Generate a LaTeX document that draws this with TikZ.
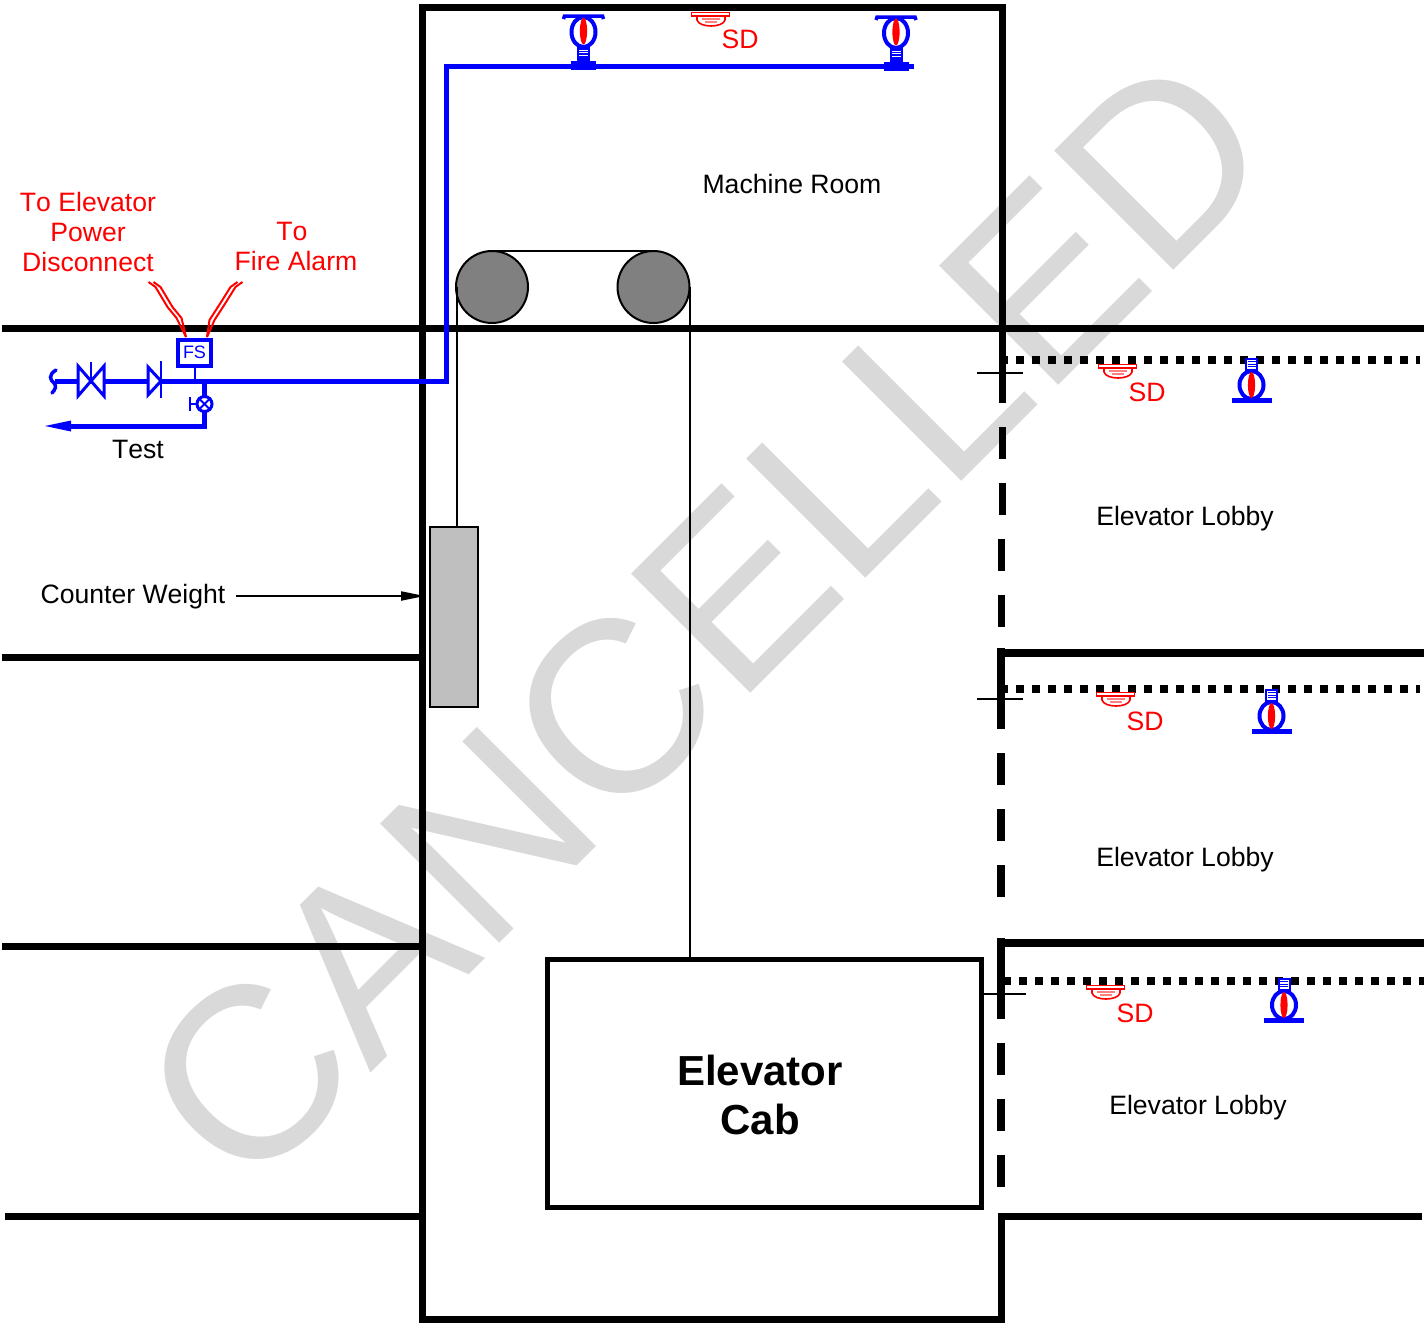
\documentclass[tikz,border=0pt]{standalone}
\usepackage{fontspec}
\setmainfont[Kerning=Off]{Liberation Sans}
\usetikzlibrary{arrows.meta,calc}
\definecolor{stampgray}{HTML}{D9D9D9}
\tikzset{
  wall/.style={line width=7pt},
  walldots/.style={line width=8pt,dash pattern=on 8pt off 8pt},
  thinline/.style={line width=2pt},
  pipe/.style={blue,line width=5pt},
  wire/.style={red,line width=2pt},
  sheave/.style={draw,line width=2pt,fill=black!50,circle,minimum size=72pt,inner sep=0pt,outer sep=0pt},
  plainlabel/.style={anchor=base,inner sep=0pt,align=center,font=\fontsize{26.6}{30}\selectfont},
  redlabel/.style={plainlabel,red},
}
\newcommand{\smokedet}[2]{
  \begin{scope}[shift={(#1,#2)}]
    \draw[red,line width=1.6pt,fill=white] (6,4) -- (6,8) .. controls (8,16) and (32,16) .. (34,8) -- (34,4);
    \fill[red!50] (11,6) rectangle (29,8);
    \fill[red!50] (14,9) rectangle (26,11);
    \draw[red,line width=1.8pt,fill=white] (.5,.5) rectangle (38.5,4);
  \end{scope}}
\newcommand{\uprighthead}[2]{
  \begin{scope}[shift={(#1,#2)}]
    \fill[blue] (-12.5,46) rectangle (12.5,55);
    \fill[blue] (-6.5,31) rectangle (6.5,47);
    \foreach \y in {35,37.5,40} \draw[white,line width=.7pt] (-4.5,\y) -- (4.5,\y);
    \draw[blue,line width=4pt,fill=white] (0,17) ellipse (12 and 15);
    \fill[red] (0,16) ellipse (3.6 and 13.5);
    \draw[blue,line width=3.5pt] (-20,4) -- (-19,1) -- (19,1) -- (20,4);
  \end{scope}}
\newcommand{\pendenthead}[2]{
  \begin{scope}[shift={(#1,#2)}]
    \draw[blue,line width=2pt,fill=white] (-5.5,1) rectangle (5.5,12);
    \foreach \y in {3.5,6,8.5} \draw[blue,line width=.8pt] (-4,\y) -- (4,\y);
    \draw[blue,line width=4pt,fill=white] (0,27) ellipse (12 and 14);
    \fill[red] (0,27) ellipse (3.6 and 13);
    \fill[blue] (-20,40) rectangle (20,45);
  \end{scope}}
\begin{document}
\begin{tikzpicture}[x=1pt,y=-1pt]
  \useasboundingbox (0,0) rectangle (1424,1323);
  \node[rotate=45,stampgray,inner sep=0pt,font=\fontsize{245}{245}\selectfont] (stamp) at (705.5,619) {CANCELLED};
  % shaft and floors
  \draw[wall,line cap=rect] (422,7) -- (1002.5,7);
  \draw[wall,line cap=rect] (422,7) -- (422,1319.5);
  \draw[wall,line cap=rect] (422,1319.5) -- (1001,1319.5);
  \draw[wall] (1002.5,4) -- (1002.5,403);
  \draw[wall] (2,328) -- (1424,328);
  \draw[wall] (2,657) -- (422,657);
  \draw[wall] (2,946) -- (422,946);
  \draw[wall] (5,1216) -- (422,1216);
  \draw[wall,line cap=rect] (1001,1216) -- (1001,1319.5);
  \draw[wall] (997.5,1216) -- (1422,1216);
  \draw[wall] (1002,427) -- (1002,459);
  \draw[wall] (1002,483) -- (1002,515);
  \draw[wall] (1001.5,539) -- (1001.5,571);
  \draw[wall] (1001,595) -- (1001,627);
  \draw[wall,line width=8pt] (1000.5,648) -- (1000.5,729);
  \draw[wall,line width=8pt] (1000.5,652.5) -- (1424,652.5);
  \draw[wall,line width=8pt] (1000.5,753) -- (1000.5,785);
  \draw[wall,line width=8pt] (1000.5,809) -- (1000.5,841);
  \draw[wall,line width=8pt] (1000.5,865) -- (1000.5,897);
  \draw[wall,line width=8pt] (1000.5,938) -- (1000.5,1019);
  \draw[wall,line width=8pt] (1000.5,942.5) -- (1424,942.5);
  \draw[wall,line width=8pt] (1000.5,1043) -- (1000.5,1075);
  \draw[wall,line width=8pt] (1000.5,1099) -- (1000.5,1131);
  \draw[wall,line width=8pt] (1000.5,1155) -- (1000.5,1187);
  \draw[walldots] (1000,360) -- (1420,360);
  \draw[walldots] (1000,688.5) -- (1420,688.5);
  \draw[walldots] (1003,981) -- (1424,981);
  \draw[thinline] (977,372.5) -- (1023,372.5);
  \draw[thinline] (977,699) -- (1023,699);
  \draw[thinline] (984,993.5) -- (1026,993.5);
  % cab, weight and sheaves
  \node[draw,line width=4.5pt,minimum width=434pt,minimum height=248pt,inner sep=0pt] (cab) at (764.5,1083.5) {};
  \node[font=\bfseries\fontsize{42}{49}\selectfont,align=center,anchor=base,inner sep=0pt] (cabtext) at (760,1134.5) {Elevator\\Cab};
  \node[draw,line width=2pt,fill=black!25,minimum width=48pt,minimum height=180pt,inner sep=0pt] (weight) at (454,617) {};
  \node[sheave] (sheavel) at (492,287) {};
  \node[sheave] (sheaver) at (653.5,287) {};
  \draw[thinline] (sheavel.north) -- (sheaver.north);
  \draw[thinline] ($(sheavel.west)+(1,0)$) -- ($(sheavel.west |- weight.north)+(1,0)$);
  \draw[thinline] (sheaver.east) -- (sheaver.east |- cab.north);
  % riser
  \coordinate (pipeend) at (55,381);
  \coordinate (corner) at (446.5,381);
  \coordinate (topcorner) at (446.5,66);
  \coordinate (topend) at (914,66);
  \coordinate (tee) at (204.5,381);
  \coordinate (drain) at (204.5,426);
  \coordinate (testend) at (45,426);
  \draw[pipe,line join=miter] (pipeend) -- (corner) -- (topcorner) -- (topend);
  \draw[pipe,line join=miter] (tee) -- (drain) -- (68,426);
  \fill[blue] (testend) -- (71,420.5) -- (71,431.5) -- cycle;
  \draw[blue,line width=3.5pt,line cap=round] (56,370) .. controls (48,375) and (50,380) .. (54,383) .. controls (57,386) and (55,390) .. (52,393);
  % gate valve
  \draw[blue,line width=3pt,fill=white,line join=miter] (78,366) -- (104,396) -- (104,366) -- (78,396) -- cycle;
  \draw[blue,line width=2pt] (91,362) -- (91,381);
  % check valve
  \draw[blue,line width=3pt,fill=white,line join=miter] (148,367) -- (161,381) -- (148,395) -- cycle;
  \draw[blue,line width=2pt] (161,361) -- (161,398);
  % test valve
  \draw[blue,line width=2.5pt] (204.5,404) -- (190,404);
  \draw[blue,line width=2.5pt] (190,397) -- (190,411);
  \node[draw=blue,line width=3pt,fill=white,circle,minimum size=15pt,inner sep=0pt] (testvalve) at (204.5,404) {};
  \draw[blue,line width=2pt] (testvalve.north west) -- (testvalve.south east);
  \draw[blue,line width=2pt] (testvalve.north east) -- (testvalve.south west);
  % flow switch
  \node[draw=blue,line width=4pt,fill=white,text=blue,minimum width=33pt,minimum height=26pt,inner sep=0pt,font=\fontsize{18}{18}\selectfont] (fsbox) at (194.5,352.5) {FS};
  \draw[blue,line width=2pt] (fsbox.south) -- (fsbox.south |- pipeend);
  \coordinate (wirel) at (186,337);
  \coordinate (wirer) at (207,337);
  \foreach \d in {-2.5,2.5} {
    \draw[wire,xshift=\d pt] (wirel) -- (179,318) -- (170,307) -- (158,287) -- (151,282);
    \draw[wire,xshift=\d pt] (wirer) -- (212,320) -- (223,303) -- (233,287) -- (240,282);
  }
  % heads
  \uprighthead{583.5}{15}
  \uprighthead{896}{16}
  \pendenthead{1251.5}{358}
  \pendenthead{1271.5}{689}
  \pendenthead{1284}{978}
  \smokedet{691}{12}
  \smokedet{1098}{364}
  \smokedet{1096}{692}
  \smokedet{1086}{985}
  % labels
  \node[redlabel] (sdtop) at (740,48) {SD};
  \node[redlabel] (sdone) at (1147,401) {SD};
  \node[redlabel] (sdtwo) at (1145,730) {SD};
  \node[redlabel] (sdthree) at (1135,1022) {SD};
  \node[redlabel] (powertext) at (88,271) {To Elevator\\Power\\Disconnect};
  \node[redlabel] (alarmto) at (292,240.5) {To};
  \node[redlabel] (alarmtext) at (296,270.5) {Fire Alarm};
  \node[plainlabel] (testtext) at (138,458.5) {Test};
  \node[plainlabel] (roomtext) at (792,193.5) {Machine Room};
  \node[plainlabel] (lobbyone) at (1185,525.5) {Elevator Lobby};
  \node[plainlabel] (lobbytwo) at (1185,866.5) {Elevator Lobby};
  \node[plainlabel] (lobbythree) at (1198,1114.5) {Elevator Lobby};
  \node[plainlabel] (weighttext) at (133,603.5) {Counter Weight};
  \coordinate (weightstart) at (236,596);
  \coordinate (weightend) at (425,596);
  \draw[thinline,-{Triangle[length=24pt,width=9pt]}] (weightstart) -- (weightend);
\end{tikzpicture}
\end{document}
